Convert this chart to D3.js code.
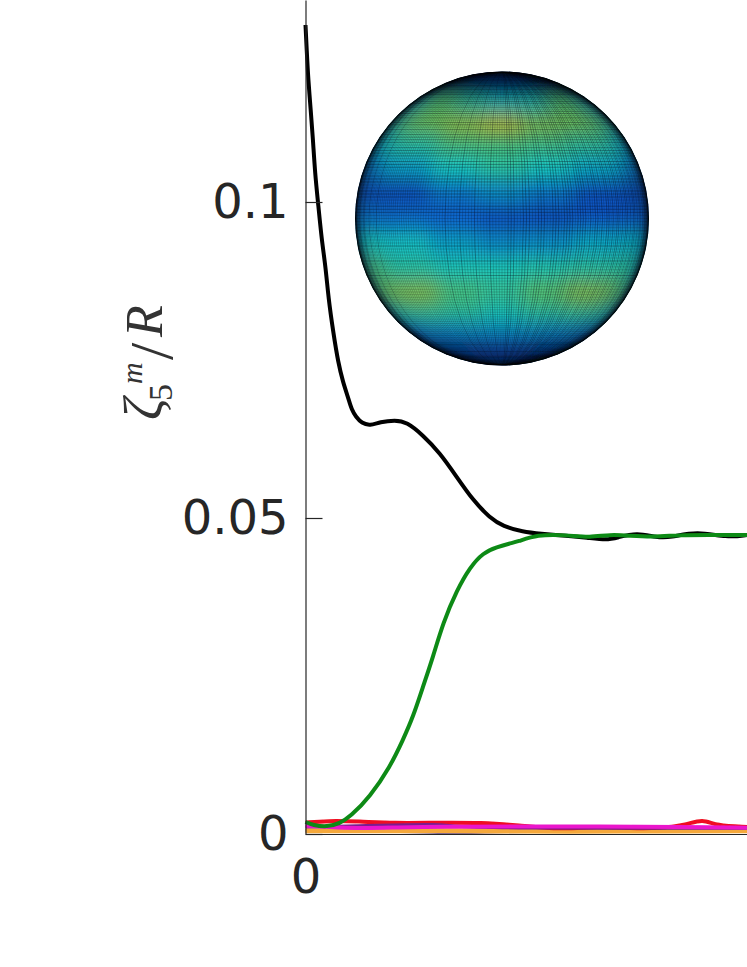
<!DOCTYPE html>
<html>
<head>
<meta charset="utf-8">
<script src="https://cdn.jsdelivr.net/npm/d3@7"></script>
<style>
  body { margin: 0; background: #fff; }
  svg { display: block; }
  .tick text { font-family: "DejaVu Sans", sans-serif; font-size: 48px; fill: #262626; }
  .label text { font-family: "Liberation Serif", serif; font-style: italic; fill: #333; }
</style>
</head>
<body>
<div id="chart-div"></div>
<script>
// time is in percent of the visible x range, the plot is cut off at the right
const blackTime = [0, .27, .63, 1.18, 1.7, 2.15, 2.9, 3.67, 4.58, 5.16, 6.3, 7.43, 8.49, 9.69, 10.46, 11.44, 12.73, 14.6, 16.87, 20.27, 22.92, 26.6, 30.46, 34.25, 37.94, 41.8, 44.73, 49.26, 53.1, 59.2, 63.76, 68.3, 70.55, 75.1, 79.6, 82.56, 88.67, 95.5, 100];
const blackVal = [.128, .1241, .1193, .1146, .1098, .1046, .0995, .094, .0896, .085, .0793, .0745, .0715, .069, .0671, .066, .065, .0646, .0652, .0655, .0652, .0631, .0603, .0565, .0528, .05, .0487, .0478, .0475, .0472, .0469, .0465, .0469, .0477, .0469, .0469, .0479, .0469, .0473];

const greenTime = [0, 1.7, 4.87, 7.81, 10.08, 14.6, 19.14, 22.08, 24.35, 26.6, 28.88, 31.14, 34.31, 37.26, 40.2, 43.37, 46.32, 47.9, 52.43, 59.2, 64.44, 68.97, 73.5, 78.7, 84.83, 90.9, 100];
const greenVal = [.0019, .0014, .0011, .0017, .0027, .0059, .0106, .0149, .0185, .0233, .028, .0334, .0386, .0422, .0445, .0454, .046, .0462, .0474, .0473, .0469, .0474, .0472, .047, .0473, .0473, .0473];

const redTime = [0, 5, 12, 20, 30, 40, 48, 58, 66, 74, 80, 86, 90, 93, 100];
const redVal = [.0018, .0021, .002, .0017, .0018, .0018, .0014, .0007, .0012, .0009, .0009, .0014, .0024, .0013, .0011];

const magentaTime = [0, 5.5, 11.4, 19, 30.5, 48.6, 66.7, 84.8, 100];
const magentaVal = [.0013, .0011, .0009, .001, .0012, .0012, .0012, .0011, .001];

const purpleTime = [0, 17, 30.5, 33, 44, 100];
const purpleVal = [.0011, .0014, .0016, .0012, .0009, .0009];

const orangeTime = [0, 20, 40, 60, 80, 100];
const orangeVal = [.0005, .0005, .0005, .0004, .0005, .0005];

const blueTime = [0, 20, 30, 33, 36, 42, 100];
const blueVal = [.0005, .0005, .0003, .0001, .0002, .0005, .0005];

const yTicks = [0, 0.05, 0.1];
const yTickLabels = ["0", "0.05", "0.1"];
const xTicks = [0];
const xTickLabels = ["0"];

// inset sphere: field value read per patch, rows north to south, columns west to east
const sphereLatEdges = [90, 72, 56, 45, 35, 25, 15, 5, -5, -15, -25, -35, -45, -56, -72, -90];
const sphereLonEdges = [-90, -60, -30, -10, 10, 30, 60, 90];
const sphereField = [
  [0, 0, 0, .01, .01, 0, 0],
  [.06, .1, .14, .18, .16, .1, .06],
  [.56, .72, .62, .56, .58, .72, .56],
  [.66, .8, .88, .96, .84, .8, .68],
  [.54, .62, .7, .7, .68, .64, .54],
  [.42, .48, .56, .62, .56, .5, .42],
  [.32, .32, .4, .44, .4, .33, .31],
  [.4, .38, .36, .32, .31, .34, .36],
  [.58, .54, .48, .44, .45, .5, .52],
  [.72, .62, .58, .58, .6, .62, .62],
  [.76, .84, .7, .65, .74, .84, .72],
  [.6, .64, .62, .57, .62, .64, .58],
  [.36, .42, .44, .44, .44, .42, .36],
  [.16, .22, .26, .28, .26, .22, .16],
  [.05, .08, .1, .12, .1, .08, .05]
];
const sphereColors = ["#000000", "#04126a", "#0b5ccc", "#12c8c8", "#5cc268", "#c4b81c"];
const sphereStops = [0, .15, .35, .55, .75, 1];

var width = 747
var height = 967

var svg = d3.select('#chart-div')
            .append('svg')
            .attr("width", width)
            .attr("height", height)
            .attr("viewBox", [0, 0, width, height]);

var x = d3.scaleLinear().domain([0, 100]).range([305.5, 747]);
var y = d3.scaleLinear().domain([0, 0.13196]).range([834, 0]);

var defs = svg.append("defs");
defs.append("filter").attr("id", "soft")
    .attr("x", "-10%").attr("y", "-10%").attr("width", "120%").attr("height", "120%")
    .append("feGaussianBlur").attr("stdDeviation", 9);
defs.append("filter").attr("id", "meshSoft")
    .append("feGaussianBlur").attr("stdDeviation", 0.3);
defs.append("filter").attr("id", "lineSoft")
    .attr("x", "-5%").attr("y", "-5%").attr("width", "110%").attr("height", "110%")
    .append("feGaussianBlur").attr("stdDeviation", 0.6);
var limb = defs.append("radialGradient").attr("id", "limb");
limb.append("stop").attr("offset", "95%").attr("stop-color", "#000").attr("stop-opacity", 0);
limb.append("stop").attr("offset", "98.5%").attr("stop-color", "#000").attr("stop-opacity", 0.35);
limb.append("stop").attr("offset", "100%").attr("stop-color", "#000").attr("stop-opacity", 0.95);

// curves
var line = d3.line()
    .x(function(d) { return x(d[0]); })
    .y(function(d) { return y(d[1]); })
    .curve(d3.curveBasis);

var series = [
    {time: blueTime, val: blueVal, color: "#5a55b0", w: 3.5},
    {time: orangeTime, val: orangeVal, color: "#f5a83a", w: 5},
    {time: redTime, val: redVal, color: "#ef1020", w: 4},
    {time: purpleTime, val: purpleVal, color: "#7a1f8f", w: 3},
    {time: magentaTime, val: magentaVal, color: "#ea14cc", w: 4},
    {time: blackTime, val: blackVal, color: "#000000", w: 4},
    {time: greenTime, val: greenVal, color: "#0c8a14", w: 4}
];

svg.append("g")
    .attr("filter", "url(#lineSoft)")
    .selectAll("path")
    .data(series)
    .enter().append("path")
    .attr("fill", "none")
    .attr("stroke", function(d) { return d.color; })
    .attr("stroke-width", function(d) { return d.w; })
    .attr("d", function(d) { return line(d.time.map(function(t, i) { return [t, d.val[i]]; })); });

// axes
var yAxis = d3.axisLeft(y)
    .tickValues(yTicks)
    .tickFormat(function(d, i) { return yTickLabels[i]; })
    .tickSizeInner(-17)
    .tickSizeOuter(0)
    .tickPadding(17);

var xAxis = d3.axisBottom(x)
    .tickValues(xTicks)
    .tickFormat(function(d, i) { return xTickLabels[i]; })
    .tickSize(0)
    .tickPadding(25);

var gy = svg.append("g").attr("transform", "translate(305.5,0)").call(yAxis);
var gx = svg.append("g").attr("transform", "translate(0,834)").call(xAxis);
gy.selectAll(".domain, line").attr("stroke", "#262626").attr("stroke-width", 1.2);
gx.selectAll(".domain").attr("stroke", "#262626").attr("stroke-width", 1.2);
gy.selectAll("text").attr("dy", "0.32em");

// y label, pieces stacked by hand because of the sub and superscript
var label = svg.append("g")
    .attr("class", "label")
    .attr("transform", "translate(162,420) rotate(-90)");
label.append("text").attr("x", 0).attr("y", 0).style("font-size", "54px").text("ζ");
label.append("text").attr("x", 19).attr("y", 10).style("font-size", "34px").style("font-style", "normal").text("5");
label.append("text").attr("x", 36).attr("y", -20).style("font-size", "30px").text("m");
label.append("text").attr("x", 60).attr("y", 10).style("font-size", "62px").style("font-style", "normal").text("/");
label.append("text").attr("x", 83).attr("y", 0).style("font-size", "52px").text("R");

// inset sphere
var projection = d3.geoOrthographic()
    .scale(147)
    .translate([502, 218.5])
    .rotate([0, 0, 0])
    .precision(0.5);
var geoPath = d3.geoPath(projection);

var color = d3.scaleLinear().domain(sphereStops).range(sphereColors);

var patches = [];
sphereField.forEach(function(row, r) {
    row.forEach(function(v, c) {
        var w = sphereLonEdges[c], e = sphereLonEdges[c + 1];
        var n = sphereLatEdges[r], s = sphereLatEdges[r + 1];
        patches.push({
            value: v,
            geo: {type: "Polygon", coordinates: [[[w, s], [w, n], [e, n], [e, s], [w, s]]]}
        });
    });
});

defs.append("clipPath").attr("id", "sphereClip")
    .append("circle").attr("cx", 502).attr("cy", 218.5).attr("r", 147);

var sphere = svg.append("g").attr("clip-path", "url(#sphereClip)");
sphere.append("circle")
    .attr("cx", 502).attr("cy", 218.5).attr("r", 147)
    .attr("fill", "#0a4a90");
sphere.append("g")
    .attr("filter", "url(#soft)")
    .selectAll("path")
    .data(patches)
    .enter().append("path")
    .attr("d", function(d) { return geoPath(d.geo); })
    .attr("fill", function(d) { return color(d.value); })
    .attr("stroke", function(d) { return color(d.value); })
    .attr("stroke-width", 1);

var mesh = d3.geoGraticule()
    .extent([[-90, -90], [90.01, 90.01]])
    .step([1.2, 1.2])
    .precision(2);
sphere.append("path")
    .attr("d", geoPath(mesh()))
    .attr("fill", "none")
    .attr("stroke", "#001018")
    .attr("stroke-opacity", 0.3)
    .attr("stroke-width", 0.6)
    .attr("filter", "url(#meshSoft)");

sphere.append("circle")
    .attr("cx", 502).attr("cy", 218.5).attr("r", 147)
    .attr("fill", "url(#limb)");
</script>
</body>
</html>
